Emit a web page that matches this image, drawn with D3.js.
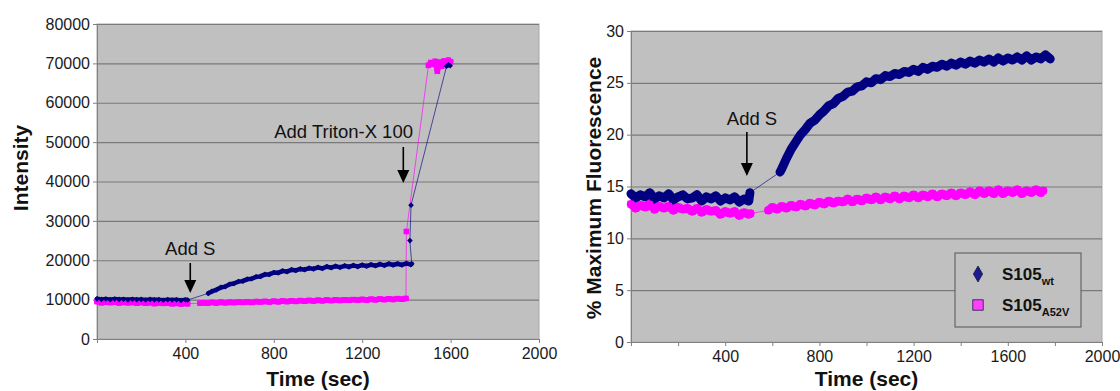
<!DOCTYPE html>
<html>
<head>
  <meta charset="UTF-8">
  <title>Intensity and % Maximum Fluorescence</title>
  <style>
    body { margin: 0; background: #fff; }
    svg { display: block; font-family: Arial, "Liberation Sans", sans-serif; }
    .axis path, .axis line { stroke: #808080; }
    .axis text { fill: #1a1a1a; font-size: 16px; }
  </style>
</head>
<body>
  <svg id="chart" width="1120" height="391"></svg>

  <script src="https://cdnjs.cloudflare.com/ajax/libs/d3/7.8.5/d3.min.js"></script>
  <script>

    // ---- data: [time (sec), value] ----
    // left panel, intensity
    var leftWt = [
      [0,10200],[20,10050],[40,10150],[60,10000],[80,10150],[100,10050],[120,10100],[140,9950],
      [160,10100],[180,10000],[200,10050],[220,9900],[240,10050],[260,9950],[280,10000],[300,9850],
      [320,10000],[340,9900],[360,9950],[380,9800],[400,9950],[410,9900],
      [504,11600],[520,12100],[540,12500],[560,13100],[580,13300],[600,13900],[620,14100],[640,14600],
      [660,14700],[680,15200],[700,15300],[720,15800],[740,15900],[760,16400],[780,16400],[800,16900],
      [820,16800],[840,17300],[860,17100],[880,17600],[900,17400],[920,17800],[940,17600],[960,18000],
      [980,17800],[1000,18200],[1020,17900],[1040,18400],[1060,18100],[1080,18500],[1100,18200],[1120,18600],
      [1140,18300],[1160,18700],[1180,18400],[1200,18800],[1220,18500],[1240,18900],[1260,18600],[1280,19000],
      [1300,18700],[1320,19100],[1340,18800],[1360,19100],[1380,18800],[1400,19200],[1420,18900],[1424,19100],
      [1416,25000],[1421,34000],
      [1582,69300],[1590,69600],[1598,69400]
    ];
    var leftA52V = [
      [0,9500],[20,9200],[40,9400],[60,9250],[80,9400],[100,9150],[120,9350],[140,9200],
      [160,9300],[180,9100],[200,9300],[220,9100],[240,9250],[260,9000],[280,9200],[300,9050],
      [320,9150],[340,8950],[360,9100],[380,8900],[400,9050],[410,8950],
      [466,9100],[480,9200],[500,9100],[520,9300],[540,9150],[560,9350],[580,9200],[600,9350],
      [620,9250],[640,9400],[660,9300],[680,9450],[700,9300],[720,9500],[740,9400],[760,9550],
      [780,9400],[800,9600],[820,9450],[840,9650],[860,9500],[880,9700],[900,9550],[920,9750],
      [940,9600],[960,9800],[980,9650],[1000,9850],[1020,9700],[1040,9900],[1060,9750],[1080,9950],
      [1100,9800],[1120,9950],[1140,9850],[1160,10000],[1180,9900],[1200,10050],[1220,9900],[1240,10100],
      [1260,9950],[1280,10150],[1300,10000],[1320,10200],[1340,10050],[1360,10250],[1380,10100],[1398,10300],
      [1400,27300],
      [1500,69500],[1510,70200],[1520,69800],[1530,70500],[1540,68000],[1550,70300],[1560,69300],
      [1570,70600],[1580,70100],[1590,70800],[1600,70400]
    ];

    // right panel, % maximum fluorescence
    var rightWt = [
      [0,14.3],[20,13.9],[40,14.2],[60,14.0],[80,14.4],[100,13.8],[120,14.1],[140,13.9],
      [160,14.3],[180,13.7],[200,14.0],[220,14.2],[240,13.8],[260,13.9],[280,14.2],[300,13.6],
      [320,14.0],[340,13.8],[360,14.1],[380,13.6],[400,13.9],[420,13.7],[440,14.0],[460,13.5],
      [480,13.8],[500,13.6],[505,14.4],
      [633,16.4],[640,16.7],[660,17.7],[680,18.6],[700,19.3],[720,20.0],[740,20.5],[760,21.1],
      [780,21.4],[800,21.9],[820,22.3],[840,22.8],[860,23.0],[880,23.5],[900,23.7],[920,24.1],
      [940,24.2],[960,24.6],[980,24.7],[1000,25.1],[1020,25.0],[1040,25.4],[1060,25.3],[1080,25.7],
      [1100,25.6],[1120,25.9],[1140,25.8],[1160,26.1],[1180,26.0],[1200,26.3],[1220,26.1],[1240,26.5],
      [1260,26.3],[1280,26.6],[1300,26.5],[1320,26.8],[1340,26.6],[1360,26.9],[1380,26.7],[1400,27.0],
      [1420,26.8],[1440,27.1],[1460,26.9],[1480,27.2],[1500,27.0],[1520,27.3],[1540,27.0],[1560,27.4],
      [1580,27.1],[1600,27.4],[1620,27.2],[1640,27.5],[1660,27.2],[1680,27.6],[1700,27.2],[1720,27.5],
      [1740,27.3],[1760,27.7],[1780,27.3]
    ];
    var rightA52V = [
      [0,13.3],[20,12.9],[40,13.2],[60,13.0],[80,13.3],[100,12.8],[120,13.1],[140,12.9],
      [160,13.1],[180,12.7],[200,13.0],[220,12.8],[240,12.9],[260,12.6],[280,12.9],[300,12.5],
      [320,12.8],[340,12.6],[360,12.7],[380,12.3],[400,12.6],[420,12.4],[440,12.6],[460,12.2],
      [480,12.5],[500,12.3],[507,12.4],
      [583,12.7],[600,13.0],[620,12.8],[640,13.1],[660,12.9],[680,13.2],[700,13.0],[720,13.3],
      [740,13.1],[760,13.4],[780,13.2],[800,13.5],[820,13.3],[840,13.6],[860,13.4],[880,13.6],
      [900,13.5],[920,13.8],[940,13.5],[960,13.8],[980,13.6],[1000,13.9],[1020,13.7],[1040,14.0],
      [1060,13.7],[1080,14.0],[1100,13.8],[1120,14.1],[1140,13.8],[1160,14.1],[1180,13.9],[1200,14.2],
      [1220,13.9],[1240,14.2],[1260,14.0],[1280,14.3],[1300,14.0],[1320,14.3],[1340,14.1],[1360,14.4],
      [1380,14.1],[1400,14.4],[1420,14.2],[1440,14.5],[1460,14.2],[1480,14.6],[1500,14.3],[1520,14.6],
      [1540,14.3],[1560,14.7],[1580,14.3],[1600,14.6],[1620,14.4],[1640,14.7],[1660,14.3],[1680,14.6],
      [1700,14.4],[1720,14.7],[1740,14.4],[1750,14.6]
    ];

    var leftYTicks = [0, 10000, 20000, 30000, 40000, 50000, 60000, 70000, 80000];
    var rightYTicks = [0, 5, 10, 15, 20, 25, 30];
    var xLabelTicks = [400, 800, 1200, 1600, 2000];
    var leftXTicks = [0, 400, 800, 1200, 1600, 2000];
    var rightXTicks = [0, 200, 400, 600, 800, 1000, 1200, 1400, 1600, 1800, 2000];
    var seriesNames = ["S105", "S105"];
    var seriesSubs = ["wt", "A52V"];

    var WT_COLOR = "#000080", A52V_COLOR = "#ff00ff";

    var svg = d3.select("#chart");

    function panel(cfg) {
      var x = d3.scaleLinear().domain([0, 2000]).range([cfg.left, cfg.right]);
      var y = d3.scaleLinear().domain([0, cfg.yMax]).range([cfg.bottom, cfg.top]);
      var g = svg.append("g");

      // split a series into runs of closely spaced readings; the gaps keep only the thin line
      function runs(data) {
        var out = [], cur = [data[0]];
        for (var i = 1; i < data.length; i++) {
          var dt = data[i][0] - data[i - 1][0];
          var dy = Math.abs(y(data[i][1]) - y(data[i - 1][1]));
          if (dt > 0 && dt <= 30 && dy < 12) cur.push(data[i]);
          else { out.push(cur); cur = [data[i]]; }
        }
        out.push(cur);
        return out.filter(function(r) { return r.length > 3; });
      }

      // plot area
      g.append("rect")
        .attr("x", cfg.left).attr("y", cfg.top)
        .attr("width", cfg.right - cfg.left).attr("height", cfg.bottom - cfg.top)
        .attr("fill", "#c0c0c0").attr("stroke", "#a8a8a8");

      // gridlines
      g.selectAll(".grid")
        .data(cfg.yTicks.slice(1))
        .enter().append("line")
          .attr("x1", cfg.left).attr("x2", cfg.right)
          .attr("y1", function(d) { return y(d) + 0.5; })
          .attr("y2", function(d) { return y(d) + 0.5; })
          .attr("stroke", "#7a7a7a").attr("stroke-width", 1.2);

      g.append("g")
        .attr("class", "axis")
        .attr("transform", "translate(" + cfg.left + ",0)")
        .call(d3.axisLeft(y).tickValues(cfg.yTicks).tickSize(4).tickPadding(3).tickFormat(d3.format("d")));

      g.append("g")
        .attr("class", "axis")
        .attr("transform", "translate(0," + cfg.bottom + ")")
        .call(d3.axisBottom(x).tickValues(cfg.xTicks).tickSize(4).tickPadding(5)
          .tickFormat(function(d) { return xLabelTicks.indexOf(d) >= 0 ? d : ""; }));

      g.selectAll(".axis .domain").attr("stroke", "#808080");

      var line = d3.line()
        .x(function(d) { return x(d[0]); })
        .y(function(d) { return y(d[1]); });

      // thin connecting lines + dense bands of overlapping markers
      [[cfg.a52v, A52V_COLOR, cfg.bandA], [cfg.wt, WT_COLOR, cfg.bandW]].forEach(function(s) {
        g.append("path").datum(s[0])
          .attr("d", line).attr("fill", "none")
          .attr("stroke", s[1]).attr("stroke-width", 0.8).attr("opacity", 0.8);
        g.selectAll(null)
          .data(runs(s[0]))
          .enter().append("path")
            .attr("d", line).attr("fill", "none")
            .attr("stroke", s[1]).attr("stroke-width", s[2])
            .attr("stroke-linejoin", "round").attr("stroke-linecap", "round");
      });

      // markers
      g.selectAll(".m-a52v")
        .data(cfg.a52v)
        .enter().append("rect")
          .attr("x", function(d) { return x(d[0]) - cfg.sq / 2; })
          .attr("y", function(d) { return y(d[1]) - cfg.sq / 2; })
          .attr("width", cfg.sq).attr("height", cfg.sq)
          .attr("fill", A52V_COLOR);

      g.selectAll(".m-wt")
        .data(cfg.wt)
        .enter().append("rect")
          .attr("x", -cfg.dm / 2).attr("y", -cfg.dm / 2)
          .attr("width", cfg.dm).attr("height", cfg.dm)
          .attr("transform", function(d) { return "translate(" + x(d[0]) + "," + y(d[1]) + ") rotate(45)"; })
          .attr("fill", WT_COLOR);

      // axis titles
      g.append("text")
        .attr("x", (cfg.left + cfg.right) / 2).attr("y", 386)
        .attr("text-anchor", "middle")
        .style("font-size", "21px").style("font-weight", "bold").attr("fill", "#111")
        .text("Time (sec)");

      g.append("text")
        .attr("transform", "translate(" + cfg.yTitleX + "," + cfg.yTitleY + ") rotate(-90)")
        .attr("text-anchor", "middle")
        .style("font-size", "21px").style("font-weight", "bold").attr("fill", "#111")
        .text(cfg.yTitle);

      // annotations
      cfg.notes.forEach(function(n) {
        var ax = x(n.t);
        g.append("text")
          .attr("x", n.tx != null ? n.tx : ax).attr("y", n.ty)
          .attr("text-anchor", n.anchor || "middle")
          .style("font-size", "18.5px").attr("fill", "#111")
          .text(n.label);
        g.append("line")
          .attr("x1", ax).attr("x2", ax)
          .attr("y1", n.y1).attr("y2", n.y2 - 10)
          .attr("stroke", "#000").attr("stroke-width", 1.6);
        g.append("path")
          .attr("d", "M" + (ax - 6) + "," + (n.y2 - 13) + "L" + (ax + 6) + "," + (n.y2 - 13) + "L" + ax + "," + n.y2 + "Z")
          .attr("fill", "#000");
      });

      return {x: x, y: y, g: g};
    }

    panel({
      left: 97, right: 539, top: 24, bottom: 339, yMax: 80000,
      yTicks: leftYTicks, xTicks: leftXTicks,
      wt: leftWt, a52v: leftA52V, sq: 5.6, dm: 4, bandW: 4.5, bandA: 5.5,
      yTitle: "Intensity", yTitleX: 28, yTitleY: 168,
      notes: [
        {t: 422, label: "Add S", ty: 255, y1: 263, y2: 293},
        {t: 1386, label: "Add Triton-X 100", tx: 413, anchor: "end", ty: 138, y1: 147, y2: 183}
      ]
    });

    var rp = panel({
      left: 631, right: 1102, top: 31, bottom: 342, yMax: 30,
      yTicks: rightYTicks, xTicks: rightXTicks,
      wt: rightWt, a52v: rightA52V, sq: 7, dm: 6, bandW: 9, bandA: 8.5,
      yTitle: "% Maximum Fluorescence", yTitleX: 601, yTitleY: 188,
      notes: [
        {t: 492, label: "Add S", tx: 752, ty: 125, y1: 132, y2: 176}
      ]
    });

    // legend
    var lg = rp.g.append("g").attr("transform", "translate(955,253)");
    lg.append("rect")
      .attr("width", 126).attr("height", 74)
      .attr("fill", "#c0c0c0").attr("stroke", "#555").attr("stroke-width", 1);

    var items = lg.selectAll(".item")
      .data(seriesNames)
      .enter().append("g")
        .attr("transform", function(d, i) { return "translate(0," + (21 + i * 31) + ")"; });

    items.append("path")
      .attr("transform", "translate(23,0)")
      .attr("d", function(d, i) {
        return i === 0 ? d3.symbol(d3.symbolDiamond, 74)() : d3.symbol(d3.symbolSquare, 110)();
      })
      .attr("fill", function(d, i) { return i === 0 ? "#1c1c8c" : "#ff40ff"; })
      .attr("stroke", "#1a1a40").attr("stroke-width", 0.8);

    var lt = items.append("text")
      .attr("x", 47).attr("y", 6)
      .style("font-weight", "bold").attr("fill", "#111");
    lt.append("tspan").style("font-size", "17px").text(function(d) { return d; });
    lt.append("tspan").attr("dy", 5).style("font-size", "11px").text(function(d, i) { return seriesSubs[i]; });

  </script>
</body>
</html>
